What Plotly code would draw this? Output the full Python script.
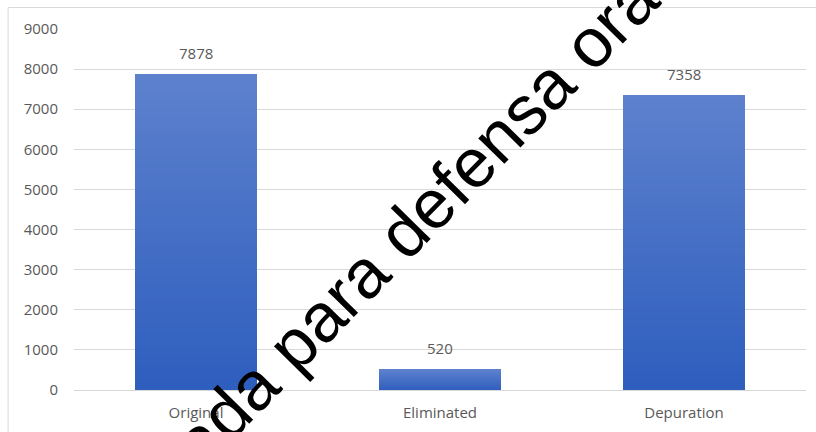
import plotly.graph_objects as go

# Record counts before and after the depuration step
categories = ["Original", "Eliminated", "Depuration"]
counts = [7878, 520, 7358]
y_ticks = [0, 1000, 2000, 3000, 4000, 5000, 6000, 7000, 8000, 9000]

watermark = "ada para defensa oral"

# Vertical gradient fill: each bar is split into thin stacked bands
N_BANDS = 60
bottom_rgb = (46, 94, 190)
top_rgb = (93, 129, 205)


def band_color(i):
    t = i / (N_BANDS - 1)
    r, g, b = (round(bottom_rgb[k] + (top_rgb[k] - bottom_rgb[k]) * t) for k in range(3))
    return f"rgb({r},{g},{b})"


fig = go.Figure()
for i in range(N_BANDS):
    fig.add_trace(
        go.Bar(
            x=categories,
            y=[v / N_BANDS for v in counts],
            marker=dict(color=band_color(i), line=dict(width=0)),
            hoverinfo="skip",
            showlegend=False,
        )
    )

label_font = dict(family="Open Sans", size=15, color="#595959")

# Value labels above each bar
for cat, v in zip(categories, counts):
    fig.add_annotation(
        x=cat, y=v, text=f"{v}", showarrow=False,
        yanchor="bottom", yshift=9, font=label_font,
    )

# Diagonal watermark across the chart
fig.add_annotation(
    xref="paper", yref="paper", x=(421 - 73.5) / 733, y=(390 - 216) / 361,
    text=watermark, showarrow=False, textangle=-45.5,
    font=dict(family="Liberation Sans", size=69, color="black"),
)

# Light frame around the chart area
fig.add_shape(
    type="rect", xref="paper", yref="paper",
    x0=(7.5 - 73.5) / 733, x1=1.1, y0=-0.3, y1=(390 - 7.5) / 361,
    line=dict(color="#d9d9d9", width=1), layer="below",
)

fig.update_layout(
    width=816, height=432,
    margin=dict(l=73.5, r=9.5, t=29, b=42),
    paper_bgcolor="white", plot_bgcolor="white",
    barmode="stack", bargap=0.5,
    showlegend=False,
    xaxis=dict(
        showgrid=False, showline=False, ticks="",
        tickfont=label_font, ticklabelstandoff=12,
    ),
    yaxis=dict(
        range=[0, 9000], tickvals=y_ticks,
        showgrid=True, gridcolor="#d9d9d9", gridwidth=1,
        zeroline=True, zerolinecolor="#d9d9d9", zerolinewidth=1,
        showline=False, ticks="",
        tickfont=label_font, ticklabelstandoff=15,
    ),
)

fig.write_html("out.html")
